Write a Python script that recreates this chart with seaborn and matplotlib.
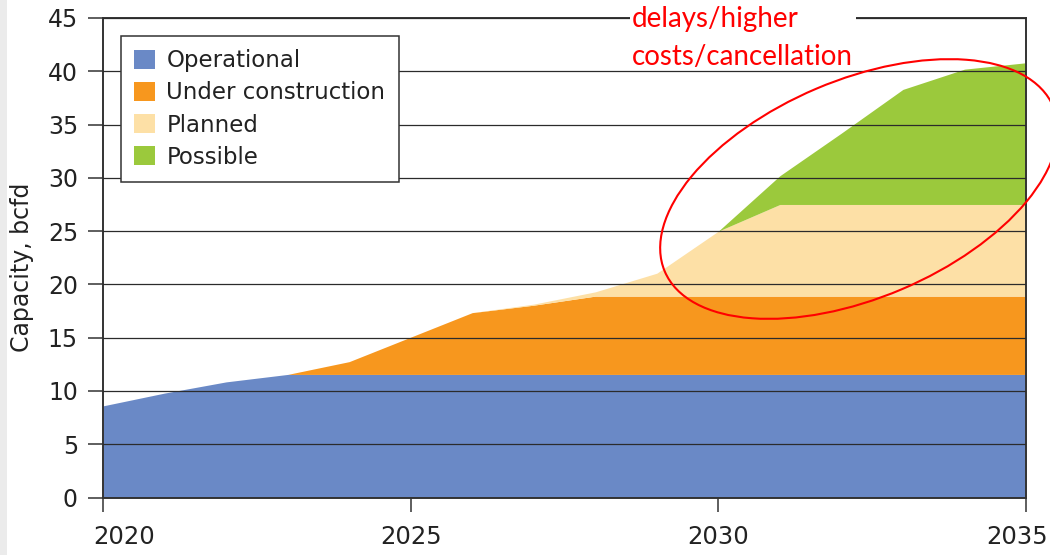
import matplotlib
matplotlib.use("Agg")
import matplotlib.pyplot as plt
import seaborn as sns
import pandas as pd
from matplotlib.patches import Ellipse, Rectangle
from matplotlib.transforms import IdentityTransform, ScaledTranslation

# Capacity by status, bcfd (stacked increments)
years = list(range(2020, 2036))
operational = [8.6, 9.8, 10.85, 11.55, 11.55, 11.55, 11.55, 11.55,
               11.55, 11.55, 11.55, 11.55, 11.55, 11.55, 11.55, 11.55]
under_construction = [0, 0, 0, 0, 1.2, 3.5, 5.8, 6.5,
                      7.35, 7.35, 7.35, 7.35, 7.35, 7.35, 7.35, 7.35]
planned = [0, 0, 0, 0, 0, 0, 0, 0.1,
           0.4, 2.15, 6.1, 8.6, 8.6, 8.6, 8.6, 8.6]
possible = [0, 0, 0, 0, 0, 0, 0, 0,
            0, 0, 0, 2.7, 6.7, 10.8, 12.7, 13.3]

series_names = ["Operational", "Under construction", "Planned", "Possible"]
series_colors = ["#6a89c6", "#f7971e", "#fde0a6", "#9bc93c"]
x_ticks = [2020, 2025, 2030, 2035]
y_ticks = list(range(0, 46, 5))

df = pd.DataFrame({"year": years, "Operational": operational,
                   "Under construction": under_construction,
                   "Planned": planned, "Possible": possible})

sns.set_theme(style="white")
plt.rcParams["font.family"] = ["DejaVu Sans"]

W, H = 1050, 555
fig = plt.figure(figsize=(W / 100, H / 100), dpi=100)
fig.patch.set_facecolor("white")
ax = fig.add_axes([103 / W, 1 - 497.5 / H, (1026 - 103) / W, (497.5 - 18) / H])

ax.stackplot(df["year"], [df[n] for n in series_names],
             colors=series_colors, labels=series_names, linewidth=0)

ax.set_xlim(2020, 2035)
ax.set_ylim(0, 45)
ax.set_xticks(x_ticks)
ax.set_xticklabels([str(t) for t in x_ticks])
ax.set_yticks(y_ticks)

ax.set_axisbelow(False)
ax.grid(axis="y", color="#2b2b2b", linewidth=0.9)
ax.grid(axis="x", visible=False)

for side in ["left", "bottom", "right", "top"]:
    ax.spines[side].set_color("#333333")
    ax.spines[side].set_linewidth(1.4)

ax.tick_params(axis="y", length=11, width=1.1, direction="out", pad=7,
               labelsize=17, color="#333333", labelcolor="#222222", left=True)
ax.tick_params(axis="x", length=10, width=1.1, direction="out", pad=10,
               labelsize=17.5, color="#333333", labelcolor="#222222", bottom=True)

# keep the end year labels inside the figure edges
xl = ax.get_xticklabels()
xl[0].set_transform(xl[0].get_transform() + ScaledTranslation(0.21, 0, fig.dpi_scale_trans))
xl[-1].set_transform(xl[-1].get_transform() + ScaledTranslation(-0.09, 0, fig.dpi_scale_trans))

ax.set_ylabel("Capacity, bcfd", fontsize=17, color="#222222")
ax.yaxis.set_label_coords((34 - 103) / 923, 0.48)

leg = ax.legend(loc="upper left", bbox_to_anchor=(121 / W, 1 - 36 / H),
                bbox_transform=fig.transFigure, borderaxespad=0,
                fontsize=16.5, frameon=True, fancybox=False, framealpha=1,
                edgecolor="#333333", handlelength=0.9, handleheight=0.9,
                handletextpad=0.5, labelspacing=0.4, borderpad=0.58)
leg.get_frame().set_linewidth(1.1)
for t in leg.get_texts():
    t.set_color("#222222")

# thin grey strip along the left edge
fig.add_artist(Rectangle((0, 0), 7 / W, 1, transform=fig.transFigure,
                         facecolor="#ebebeb", edgecolor="none", zorder=5))

# red call-out; a white patch breaks the top frame behind it
fig.add_artist(Rectangle((630, H - 30), 226, 28, transform=IdentityTransform(),
                         facecolor="white", edgecolor="none", zorder=5))
fig.text(632 / W, 1 - 6 / H, "delays/higher\ncosts/cancellation", color="red",
         fontsize=20, family=["Lato", "DejaVu Sans"], ha="left", va="top",
         linespacing=1.55, zorder=6)

fig.add_artist(Ellipse((859, H - 189), 422, 218, angle=23,
                       transform=IdentityTransform(), fill=False,
                       edgecolor="red", linewidth=1.5, zorder=7))

fig.savefig("out.png", dpi=100)
